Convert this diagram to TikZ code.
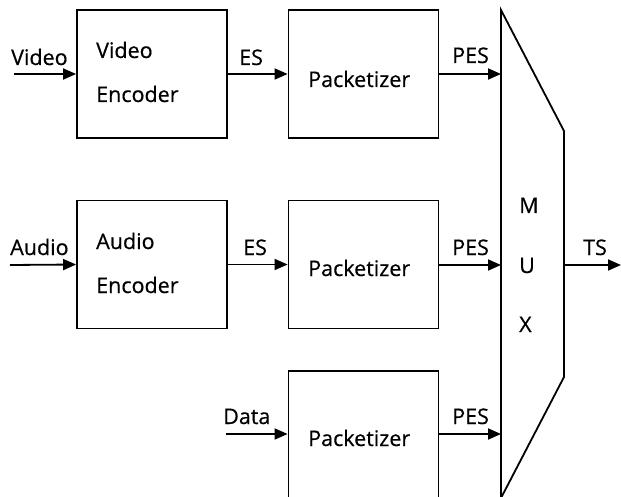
\documentclass[tikz,border=0pt]{standalone}
\usepackage{fontspec}
\setmainfont{Open Sans}
\newfontfamily\dfont[FakeBold=0.5]{Open Sans}
\usetikzlibrary{arrows.meta}
\begin{document}
\begin{tikzpicture}[x=1pt,y=-1pt,
  blk/.style={draw,line width=1.8pt,minimum width=150pt,minimum height=128pt,inner sep=0pt},
  txt/.style={font=\dfont\fontsize{21.5}{24}\selectfont,inner sep=0pt,anchor=base west},
  conn/.style={line width=1.8pt,-{Triangle[length=13pt,width=11pt]}}]
\useasboundingbox (0,0) rectangle (621,497);
% blocks
\node[blk] (ve) at (152,74) {};
\node[blk] (ae) at (152,264.5) {};
\node[blk] (p1) at (363.5,74) {};
\node[blk] (p2) at (363.5,264.5) {};
\node[blk] (p3) at (363.5,435) {};
% mux
\coordinate (m1) at (501,10);
\coordinate (m2) at (564,131);
\coordinate (m3) at (564,377);
\coordinate (m4) at (501,498);
\draw[line width=1.8pt,line join=miter] (m1) -- (m2) -- (m3) -- (m4) -- cycle;
% texts
\node[txt] (tv1) at (96,58) {Video};
\node[txt] (tv2) at (96,102) {Encoder};
\node[txt] (ta1) at (96,249) {Audio};
\node[txt] (ta2) at (96,293) {Encoder};
\node[txt] (tp1) at (308,87) {Packetizer};
\node[txt] (tp2) at (308,276) {Packetizer};
\node[txt] (tp3) at (308,446) {Packetizer};
\node[txt] (lv) at (11,65) {Video};
\node[txt] (la) at (10,255) {Audio};
\node[txt] (ld) at (223,424) {Data};
\node[txt] (les1) at (239,65) {ES};
\node[txt] (les2) at (243,255) {ES};
\node[txt] (lp1) at (452,63) {PES};
\node[txt] (lp2) at (452,255) {PES};
\node[txt] (lp3) at (452,424) {PES};
\node[txt] (lts) at (583,255) {TS};
\node[txt] (mm) at (519,213) {M};
\node[txt] (mu) at (519,273) {U};
\node[txt] (mx) at (519,332) {X};
% connector ends
\coordinate (iv) at (14,74);
\coordinate (ia) at (10,265);
\coordinate (id) at (226,434);
\coordinate (mi1) at (501,74);
\coordinate (mi2) at (501,265);
\coordinate (mi3) at (501,434);
\coordinate (mo) at (564,265);
\coordinate (ts) at (621,265);
% connectors
\draw[conn] (iv) -- (ve.west);
\draw[conn] (ia) -- (ae.west);
\draw[conn] (id) -- (id -| p3.west);
\draw[conn] (ve.east) -- (p1.west);
\draw[conn] (ae.east) -- (ae.east -| p2.west);
\draw[conn] (p1.east) -- (mi1);
\draw[conn] (p2.east |- mi2) -- (mi2);
\draw[conn] (p3.east |- mi3) -- (mi3);
\draw[conn] (mo) -- (ts);
\end{tikzpicture}
\end{document}
